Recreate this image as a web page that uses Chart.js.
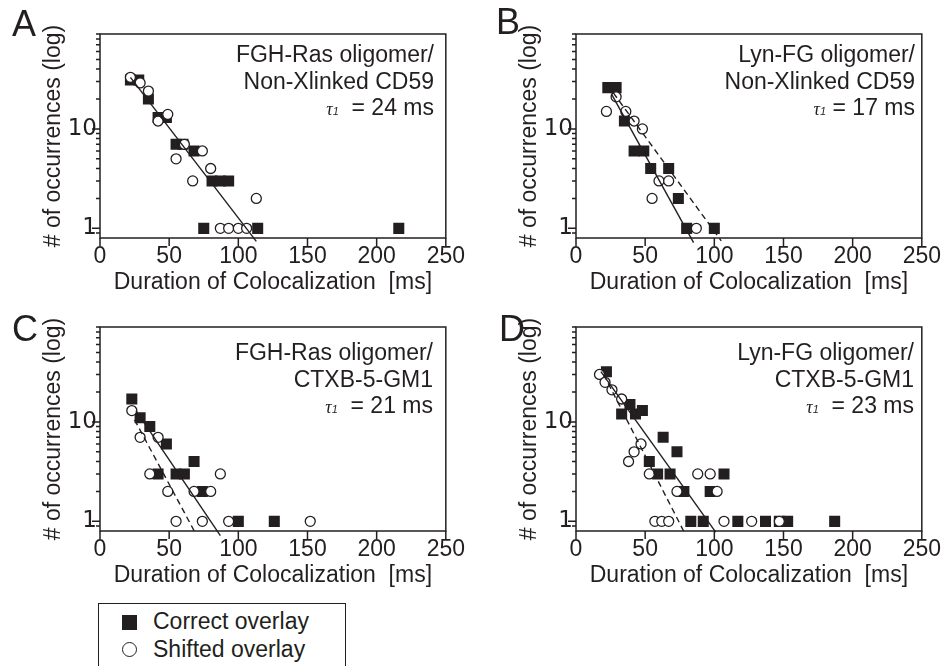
<!DOCTYPE html>
<html>
<head>
<meta charset="utf-8">
<script src="https://cdn.jsdelivr.net/npm/chart.js@4.4.0/dist/chart.umd.min.js"></script>
<style>
  body { margin: 0; background: #fff; width: 951px; height: 666px; position: relative; overflow: hidden;
         font-family: "Liberation Sans", Arial, sans-serif; color: #231f20; }
  canvas { position: absolute; }
  .letter { position: absolute; font-size: 36px; line-height: 36px; }
  .note { position: absolute; font-size: 23px; line-height: 26.5px; text-align: right; white-space: pre; }
  .tau { font-family: "Liberation Serif", serif; font-style: italic; font-size: 18px; }
  .tau span { font-family: "Liberation Sans", sans-serif; font-size: 11px; }
  .legend { position: absolute; left: 98px; top: 603px; width: 246px; height: 80px; border: 1.5px solid #231f20; }
  .legend div { position: absolute; font-size: 23px; line-height: 26.5px; white-space: pre; }
  .sq { position: absolute; width: 15px; height: 15px; background: #231f20; }
  .ci { position: absolute; width: 13px; height: 13px; border: 1.5px solid #231f20; border-radius: 50%; background: #fff; }
</style>
</head>
<body>
<canvas id="chartA" width="470" height="300" style="left:0;top:0"></canvas>
<canvas id="chartB" width="470" height="300" style="left:476px;top:0"></canvas>
<canvas id="chartC" width="470" height="300" style="left:0;top:293px"></canvas>
<canvas id="chartD" width="470" height="300" style="left:476px;top:293px"></canvas>

<div class="letter" style="left:12px;top:6px">A</div>
<div class="letter" style="left:496px;top:4px">B</div>
<div class="letter" style="left:12px;top:311px">C</div>
<div class="letter" style="left:499px;top:311px">D</div>

<div class="note" style="right:517px;top:41px">FGH-Ras oligomer/
Non-Xlinked CD59
<span class="tau">τ<span>1</span></span>  = 24 ms</div>
<div class="note" style="right:36px;top:41px">Lyn-FG oligomer/
Non-Xlinked CD59
<span class="tau">τ<span>1</span></span> = 17 ms</div>
<div class="note" style="right:518px;top:339px">FGH-Ras oligomer/
CTXB-5-GM1
<span class="tau">τ<span>1</span></span>  = 21 ms</div>
<div class="note" style="right:37px;top:339px">Lyn-FG oligomer/
CTXB-5-GM1
<span class="tau">τ<span>1</span></span>  = 23 ms</div>

<div class="legend">
  <span class="sq" style="left:23px;top:11px"></span>
  <div style="left:54px;top:4px">Correct overlay</div>
  <span class="ci" style="left:23px;top:38px"></span>
  <div style="left:54px;top:32px">Shifted overlay</div>
</div>

<script>
const INK = '#231f20';

// axis ticks
const xTicks = [0, 50, 100, 150, 200, 250];
const yTickValues = [1, 10];
const yTickLabels = ['1', '10'];
const yMinorTicks = [0.9, 2, 3, 4, 5, 6, 7, 8, 9, 20, 30, 40, 50, 60, 70, 80, 90];

// A: FGH-Ras oligomer / Non-Xlinked CD59   [ms, count]
const aCorrect = [[22, 31], [28, 31], [35, 20], [42, 13], [48, 13], [55, 7], [60, 7], [68, 6],
  [81, 3], [87, 3], [93, 3], [75, 1], [114, 1], [216, 1]];
const aShifted = [[22, 33], [29, 29], [35, 24], [42, 12], [49, 14], [55, 5], [61, 7], [67, 3],
  [74, 6], [80, 4], [113, 2], [87, 1], [93, 1], [100, 1], [106, 1]];
const aFit = [[22, 33], [113, 0.74]];

// B: Lyn-FG oligomer / Non-Xlinked CD59
const bCorrect = [[23, 26], [29, 26], [35, 12], [42, 6], [49, 6], [54, 4], [67, 4], [74, 2], [80, 1], [100, 1]];
const bShifted = [[22, 15], [29, 21], [36, 15], [42, 12], [48, 10], [55, 2], [60, 3], [67, 3], [87, 1]];
const bFit = [[26, 22], [85, 0.72]];
const bFitShifted = [[27, 23], [105, 0.75]];

// C: FGH-Ras oligomer / CTXB-5-GM1
const cCorrect = [[23, 17], [29, 11], [36, 9], [48, 6], [68, 4], [42, 3], [55, 3], [61, 3], [74, 2], [100, 1], [126, 1]];
const cShifted = [[23, 13], [29, 7], [42, 7], [36, 3], [87, 3], [49, 2], [68, 2], [80, 2], [55, 1], [74, 1], [93, 1], [152, 1]];
const cFit = [[26, 13], [87, 0.72]];
const cFitShifted = [[25, 10.5], [69, 0.76]];

// D: Lyn-FG oligomer / CTXB-5-GM1
const dCorrect = [[22, 32], [33, 12], [39, 15], [43, 12], [48, 13], [63, 7], [73, 5], [53, 4], [59, 3], [68, 3],
  [107, 3], [78, 2], [97, 2], [83, 1], [92, 1], [117, 1], [137, 1], [147, 1], [153, 1], [187, 1]];
const dShifted = [[17, 30], [21, 25], [26, 21], [33, 17], [38, 4], [42, 5], [47, 6], [53, 3], [88, 3], [97, 3],
  [73, 2], [102, 2], [57, 1], [62, 1], [67, 1], [107, 1], [127, 1], [147, 1]];
const dFit = [[18, 32], [101, 0.78]];
const dFitShifted = [[20, 30], [78, 0.79]];

const pts = arr => arr.map(([x, y]) => ({ x, y }));

// frame plus tick marks, placed through the scales
const framePlugin = {
  id: 'frame',
  beforeDatasetsDraw(chart) {
    const { ctx, chartArea: a, scales: { x, y } } = chart;
    ctx.save();
    ctx.strokeStyle = INK;
    ctx.lineWidth = 1.5;
    ctx.strokeRect(a.left, a.top, a.right - a.left, a.bottom - a.top);
    ctx.beginPath();
    xTicks.forEach(v => {
      const px = x.getPixelForValue(v);
      ctx.moveTo(px, a.bottom);
      ctx.lineTo(px, a.bottom + 8);
    });
    yTickValues.forEach(v => {
      const py = y.getPixelForValue(v);
      ctx.moveTo(a.left, py);
      ctx.lineTo(a.left - 8, py);
    });
    yMinorTicks.forEach(v => {
      const py = y.getPixelForValue(v);
      ctx.moveTo(a.left, py);
      ctx.lineTo(a.left - 4, py);
    });
    ctx.stroke();
    ctx.restore();
  }
};

function makePanel(id, correct, shifted, fit, fitShifted) {
  const datasets = [
    { data: pts(fit), showLine: true, borderColor: INK, borderWidth: 1.4, pointRadius: 0, clip: 5, order: 0 },
    { data: pts(shifted), pointStyle: 'circle', pointRadius: 5, backgroundColor: '#fff',
      borderColor: INK, borderWidth: 1.3, order: 1 },
    { data: pts(correct), pointStyle: 'rect', pointRadius: 7.8, backgroundColor: INK,
      borderWidth: 0, order: 2 }
  ];
  if (fitShifted) {
    datasets.push({ data: pts(fitShifted), showLine: true, borderColor: INK, borderWidth: 1.4,
      borderDash: [6, 4], pointRadius: 0, clip: 5, order: 0 });
  }

  return new Chart(document.getElementById(id), {
    type: 'scatter',
    data: { datasets },
    options: {
      responsive: false,
      animation: false,
      layout: { padding: { left: 0, top: 34, right: 21, bottom: 0 } },
      plugins: { legend: { display: false }, tooltip: { enabled: false } },
      scales: {
        x: {
          type: 'linear', min: 0, max: 250,
          afterBuildTicks: s => { s.ticks = xTicks.map(v => ({ value: v })); },
          afterFit: s => { s.height = 62; },
          grid: { display: false, drawTicks: false },
          border: { display: false },
          ticks: { color: INK, padding: 5, maxRotation: 0, autoSkip: false,
            font: { family: 'Liberation Sans', size: 23 } },
          title: { display: true, text: 'Duration of Colocalization  [ms]', color: INK,
            font: { family: 'Liberation Sans', size: 23 }, padding: { top: 0, bottom: 4 } }
        },
        y: {
          type: 'logarithmic', min: 0.8, max: 90,
          afterBuildTicks: s => { s.ticks = yTickValues.map(v => ({ value: v })); },
          afterFit: s => { s.width = 100; },
          grid: { display: false, drawTicks: false },
          border: { display: false },
          ticks: { color: INK, padding: 3, autoSkip: false,
            callback: v => yTickLabels[yTickValues.indexOf(v)],
            font: { family: 'DejaVu Sans', size: 23 } },
          title: { display: true, text: '# of occurrences (log)', color: INK,
            font: { family: 'Liberation Sans', size: 23 }, padding: { top: 40, bottom: 0 } }
        }
      }
    },
    plugins: [framePlugin]
  });
}

makePanel('chartA', aCorrect, aShifted, aFit, null);
makePanel('chartB', bCorrect, bShifted, bFit, bFitShifted);
makePanel('chartC', cCorrect, cShifted, cFit, cFitShifted);
makePanel('chartD', dCorrect, dShifted, dFit, dFitShifted);
</script>
</body>
</html>
